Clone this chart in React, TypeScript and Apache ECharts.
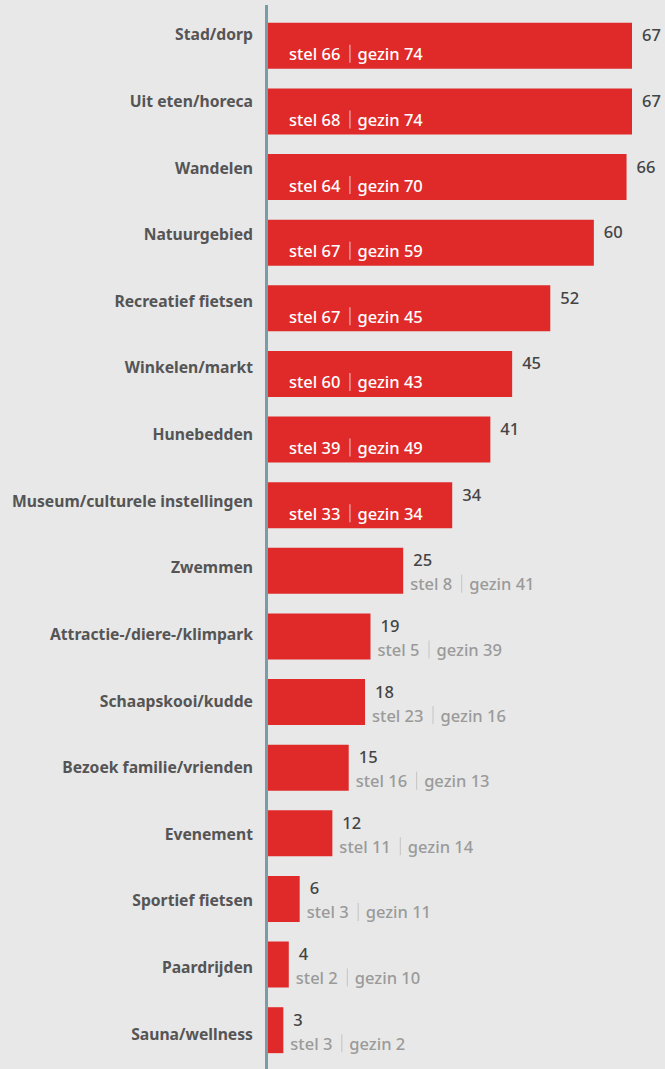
import React, { useEffect, useRef } from "react";
import * as echarts from "echarts";

const categories = [
  "Stad/dorp",
  "Uit eten/horeca",
  "Wandelen",
  "Natuurgebied",
  "Recreatief fietsen",
  "Winkelen/markt",
  "Hunebedden",
  "Museum/culturele instellingen",
  "Zwemmen",
  "Attractie-/diere-/klimpark",
  "Schaapskooi/kudde",
  "Bezoek familie/vrienden",
  "Evenement",
  "Sportief fietsen",
  "Paardrijden",
  "Sauna/wellness",
];
const totals = [67, 67, 66, 60, 52, 45, 41, 34, 25, 19, 18, 15, 12, 6, 4, 3];
const stel = [66, 68, 64, 67, 67, 60, 39, 33, 8, 5, 23, 16, 11, 3, 2, 3];
const gezin = [74, 74, 70, 59, 45, 43, 49, 34, 41, 39, 16, 13, 14, 11, 10, 2];

const FONT = "Noto Sans";
const RED = "#e02a2a";
const BG = "#e8e8e8";

export default function App() {
  const ref = useRef<HTMLDivElement>(null);
  useEffect(() => {
    document.body.style.margin = "0";
    const chart = echarts.init(ref.current!, null, { renderer: "svg" });
    const subData = totals.map((v, i) => {
      const inside = v >= 30;
      const txtColor = inside ? "#ffffff" : "#9a9a9a";
      const sepColor = inside ? "rgba(255,255,255,0.75)" : "#c4c4c4";
      return {
        value: v,
        label: {
          show: true,
          position: inside ? "insideLeft" : "right",
          distance: inside ? 5 : 7,
          offset: inside ? [17, 8] : [0, 13],
          formatter: `{t|stel ${stel[i]}}{g1| }{s| }{g2| }{t|gezin ${gezin[i]}}`,
          rich: {
            t: { color: txtColor, fontSize: 16.5, fontFamily: FONT, fontWeight: 500 },
            g1: { width: 9, fontSize: 16 },
            g2: { width: 7, fontSize: 16 },
            s: { width: 1, height: 18, backgroundColor: sepColor, fontSize: 16 },
          },
        },
      };
    });
    chart.setOption({
      animation: false,
      backgroundColor: BG,
      grid: [
        { left: 267, right: 33, top: 13, bottom: 6, containLabel: false },
        { left: 267, right: 33, top: 1, bottom: 2, containLabel: false },
      ],
      xAxis: [
        { type: "value", min: 0, max: 67, show: false, gridIndex: 0 },
        { type: "value", min: 0, max: 67, show: false, gridIndex: 1 },
      ],
      yAxis: [
        {
          type: "category",
          gridIndex: 0,
          inverse: true,
          data: categories,
          axisLine: { show: false },
          axisTick: { show: false },
          axisLabel: { show: false },
        },
        {
          type: "category",
          gridIndex: 1,
          inverse: true,
          data: categories,
          axisLine: { show: false },
          axisTick: { show: false },
          axisLabel: {
            margin: 14,
            color: "#555555",
            fontFamily: FONT,
            fontWeight: 700,
            fontSize: 15.7,
          },
        },
      ],
      series: [
        {
          type: "bar",
          data: totals,
          barCategoryGap: "30%",
          itemStyle: { color: RED },
          label: {
            show: true,
            position: "right",
            distance: 10,
            offset: [0, -11],
            color: "#444444",
            fontFamily: FONT,
            fontWeight: 500,
            fontSize: 16.5,
          },
        },
        {
          type: "bar",
          data: subData,
          barGap: "-100%",
          barCategoryGap: "30%",
          itemStyle: { color: "rgba(0,0,0,0)" },
          silent: true,
        },
      ],
      graphic: [
        {
          type: "rect",
          z: 100,
          shape: { x: 265, y: 5, width: 3, height: 1064 },
          style: { fill: "#7a9ca8" },
        },
      ],
    });
    return () => chart.dispose();
  }, []);
  return <div ref={ref} style={{ width: 665, height: 1069 }} />;
}
